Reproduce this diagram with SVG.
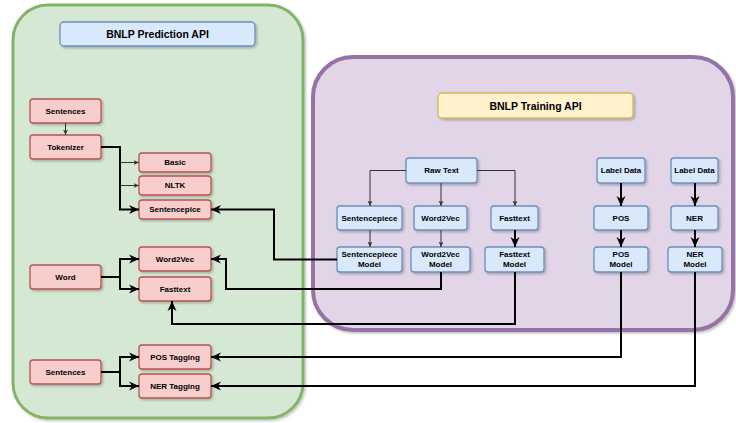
<svg xmlns="http://www.w3.org/2000/svg" width="736" height="423" viewBox="0 0 736 423">
<style>
.t{font-family:"Liberation Sans",Arial,sans-serif;font-weight:bold;font-size:8px;fill:#000;text-anchor:middle;dominant-baseline:central}
.h{font-size:10.5px}
.pk{fill:#f8cecc;stroke:#b85450;stroke-width:1.3}
.bl{fill:#dae8fc;stroke:#6c8ebf;stroke-width:1.3}
.yl{fill:#fff2cc;stroke:#d6b656;stroke-width:1.3}
.thin{fill:none;stroke:#333;stroke-width:1;marker-end:url(#as)}
.thick{fill:none;stroke:#000;stroke-width:2;marker-end:url(#al)}
</style>
<defs>
<filter id="sh" x="-20%" y="-20%" width="140%" height="140%">
<feDropShadow dx="1.5" dy="1.5" stdDeviation="0.8" flood-color="#000" flood-opacity="0.25"/>
</filter>
<marker id="al" markerUnits="userSpaceOnUse" markerWidth="11" markerHeight="10" refX="10" refY="5" orient="auto">
<path d="M0,0.5 L10,5 L0,9.5 L3,5 Z" fill="#000"/>
</marker>
<marker id="as" markerUnits="userSpaceOnUse" markerWidth="6" markerHeight="6" refX="5.5" refY="3" orient="auto">
<path d="M0,0.5 L5.5,3 L0,5.5 L1.5,3 Z" fill="#333"/>
</marker>
</defs>
<g id="prediction-container">
<rect x="13" y="5" width="290" height="413" rx="35" fill="#d5e8d4" stroke="#82b366" stroke-width="3" filter="url(#sh)"/>
</g>
<g id="training-container">
<rect x="313" y="57" width="420" height="273" rx="40" fill="#e1d5e7" stroke="#9673a6" stroke-width="4" filter="url(#sh)"/>
</g>
<g id="prediction-api"><rect class="bl" x="60" y="22" width="195" height="24" rx="4" filter="url(#sh)"/><text class="t h" x="157.5" y="34">BNLP Prediction API</text></g>
<g id="training-api"><rect class="yl" x="438" y="93" width="195" height="25" rx="4" filter="url(#sh)"/><text class="t h" x="535.5" y="105.5">BNLP Training API</text></g>

<g id="sentences1"><rect class="pk" x="30" y="99" width="71" height="24" rx="3" filter="url(#sh)"/><text class="t" x="65.5" y="111">Sentences</text></g>
<g id="tokenizer"><rect class="pk" x="30" y="135" width="71" height="24" rx="3" filter="url(#sh)"/><text class="t" x="65.5" y="147">Tokenizer</text></g>
<g id="basic"><rect class="pk" x="139" y="153" width="72" height="19" rx="3" filter="url(#sh)"/><text class="t" x="175" y="162.5">Basic</text></g>
<g id="nltk"><rect class="pk" x="139" y="176" width="72" height="19" rx="3" filter="url(#sh)"/><text class="t" x="175" y="185.5">NLTK</text></g>
<g id="sentencepice"><rect class="pk" x="139" y="200" width="72" height="19" rx="3" filter="url(#sh)"/><text class="t" x="175" y="209.5">Sentencepice</text></g>
<g id="word"><rect class="pk" x="30" y="265" width="71" height="24" rx="3" filter="url(#sh)"/><text class="t" x="65.5" y="277">Word</text></g>
<g id="word2vec-pred"><rect class="pk" x="139" y="247" width="72" height="24" rx="3" filter="url(#sh)"/><text class="t" x="175" y="259">Word2Vec</text></g>
<g id="fasttext-pred"><rect class="pk" x="139" y="277" width="72" height="24" rx="3" filter="url(#sh)"/><text class="t" x="175" y="289">Fasttext</text></g>
<g id="sentences2"><rect class="pk" x="30" y="360" width="71" height="24" rx="3" filter="url(#sh)"/><text class="t" x="65.5" y="372">Sentences</text></g>
<g id="pos-tagging"><rect class="pk" x="139" y="345" width="72" height="24" rx="3" filter="url(#sh)"/><text class="t" x="175" y="357">POS Tagging</text></g>
<g id="ner-tagging"><rect class="pk" x="139" y="374" width="72" height="24" rx="3" filter="url(#sh)"/><text class="t" x="175" y="386">NER Tagging</text></g>

<g id="raw-text"><rect class="bl" x="406" y="158" width="71" height="25" rx="3" filter="url(#sh)"/><text class="t" x="441.5" y="170.5">Raw Text</text></g>
<g id="label-data1"><rect class="bl" x="597" y="158" width="48" height="25" rx="3" filter="url(#sh)"/><text class="t" x="621" y="170.5">Label Data</text></g>
<g id="label-data2"><rect class="bl" x="671" y="158" width="47" height="25" rx="3" filter="url(#sh)"/><text class="t" x="694.5" y="170.5">Label Data</text></g>
<g id="sentencepiece"><rect class="bl" x="337" y="206" width="65" height="24" rx="3" filter="url(#sh)"/><text class="t" x="369.5" y="218">Sentencepiece</text></g>
<g id="word2vec"><rect class="bl" x="414" y="206" width="53" height="24" rx="3" filter="url(#sh)"/><text class="t" x="440.5" y="218">Word2Vec</text></g>
<g id="fasttext"><rect class="bl" x="491" y="206" width="47" height="24" rx="3" filter="url(#sh)"/><text class="t" x="514.5" y="218">Fasttext</text></g>
<g id="pos"><rect class="bl" x="594" y="206" width="54" height="24" rx="3" filter="url(#sh)"/><text class="t" x="621" y="218">POS</text></g>
<g id="ner"><rect class="bl" x="671" y="206" width="47" height="24" rx="3" filter="url(#sh)"/><text class="t" x="694.5" y="218">NER</text></g>
<g id="sentencepiece-model"><rect class="bl" x="337" y="247" width="65" height="25" rx="3" filter="url(#sh)"/><text class="t" x="369.5" y="254.5">Sentencepiece</text><text class="t" x="369.5" y="264.5">Model</text></g>
<g id="word2vec-model"><rect class="bl" x="411" y="247" width="59" height="25" rx="3" filter="url(#sh)"/><text class="t" x="440.5" y="254.5">Word2Vec</text><text class="t" x="440.5" y="264.5">Model</text></g>
<g id="fasttext-model"><rect class="bl" x="485" y="247" width="59" height="25" rx="3" filter="url(#sh)"/><text class="t" x="514.5" y="254.5">Fasttext</text><text class="t" x="514.5" y="264.5">Model</text></g>
<g id="pos-model"><rect class="bl" x="594" y="247" width="54" height="25" rx="3" filter="url(#sh)"/><text class="t" x="621" y="254.5">POS</text><text class="t" x="621" y="264.5">Model</text></g>
<g id="ner-model"><rect class="bl" x="668" y="247" width="54" height="25" rx="3" filter="url(#sh)"/><text class="t" x="695" y="254.5">NER</text><text class="t" x="695" y="264.5">Model</text></g>

<g id="connectors">
<path class="thin" d="M65.5,123 V135"/>
<path class="thin" d="M101,147 H120 V162.5 H139"/>
<path class="thin" d="M101,147 H120 V185.5 H139"/>
<path class="thick" d="M101,147 H120 V209.5 H139"/>
<path class="thick" d="M101,277 H120 V259 H139"/>
<path class="thick" d="M101,277 H120 V289 H139"/>
<path class="thick" d="M101,372 H120 V357 H139"/>
<path class="thick" d="M101,372 H120 V386 H139"/>
<path class="thin" d="M406,170.5 H370 V206"/>
<path class="thin" d="M441,183 V206"/>
<path class="thin" d="M477,170.5 H515 V206"/>
<path class="thin" d="M370,230 V247"/>
<path class="thin" d="M441,230 V247"/>
<path class="thick" d="M515,230 V247"/>
<path class="thick" d="M621,183 V206"/>
<path class="thick" d="M621,230 V247"/>
<path class="thick" d="M695,183 V206"/>
<path class="thick" d="M695,230 V247"/>
<path class="thick" d="M337,259.5 H274 V209.5 H211"/>
<path class="thick" d="M441,272 V289 H226 V259 H211"/>
<path class="thick" d="M515,272 V324 H172 V301"/>
<path class="thick" d="M621,272 V357 H211"/>
<path class="thick" d="M695,272 V386 H211"/>
</g>
</svg>
